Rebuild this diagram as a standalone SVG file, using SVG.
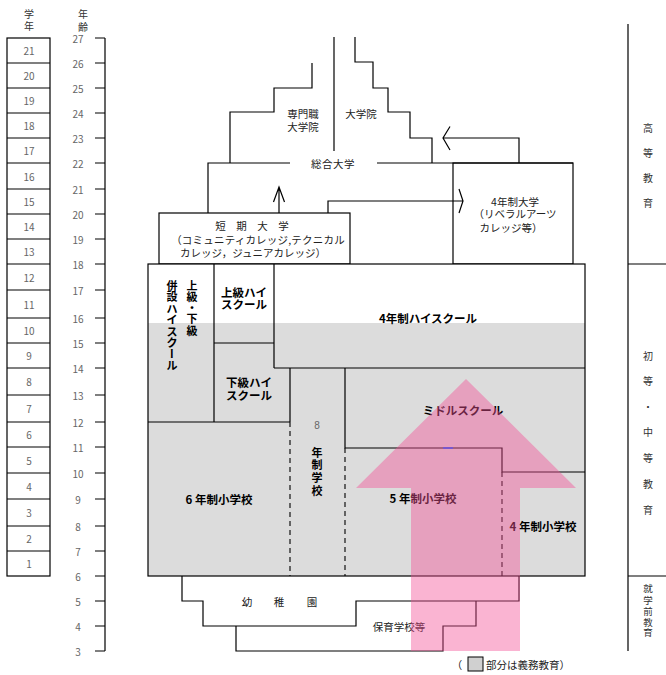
<svg xmlns="http://www.w3.org/2000/svg" width="666" height="675" viewBox="0 0 666 675">
<style>
.l{fill:none;stroke:#000;stroke-width:1.2}
.d{fill:none;stroke:#000;stroke-width:1.1;stroke-dasharray:5 4}
text{font-family:"Noto Sans CJK JP","Noto Sans",sans-serif;text-anchor:middle;dominant-baseline:central}
.t{font-size:10.5px;fill:#222}
.b{font-size:11.5px;font-weight:bold;fill:#000}
.v{font-size:11px;font-weight:bold;fill:#000}
.num{font-family:"Liberation Sans",Arial,sans-serif;font-size:10px;fill:#666}
.s{font-size:10px;fill:#333}
.pink{fill:#f35096;fill-opacity:0.43}
</style>
<rect width="666" height="675" fill="#fff"/>

<g id="grade-axis">
<text class="s" x="29" y="13">学</text>
<text class="s" x="29" y="25">年</text>
<rect x="7" y="38" width="43" height="538" class="l"/>
<path class="l" d="M7,63H50M7,88H50M7,113H50M7,138H50M7,163H50M7,189H50M7,214H50M7,239H50M7,264H50M7,290H50M7,318H50M7,343H50M7,368H50M7,395H50M7,422H50M7,447H50M7,473H50M7,499H50M7,526H50M7,551H50"/>
<g class="num">
<text x="29" y="50.5">21</text><text x="29" y="75.5">20</text><text x="29" y="100.5">19</text><text x="29" y="125.5">18</text><text x="29" y="150.5">17</text><text x="29" y="176">16</text><text x="29" y="201.5">15</text><text x="29" y="226.5">14</text><text x="29" y="251.5">13</text><text x="29" y="277">12</text><text x="29" y="304">11</text><text x="29" y="330.5">10</text><text x="29" y="355.5">9</text><text x="29" y="381.5">8</text><text x="29" y="408.5">7</text><text x="29" y="434.5">6</text><text x="29" y="460">5</text><text x="29" y="486">4</text><text x="29" y="512.5">3</text><text x="29" y="538.5">2</text><text x="29" y="563.5">1</text>
</g>
</g>

<g id="age-axis">
<text class="s" x="83" y="13">年</text>
<text class="s" x="83" y="26">齢</text>
<path class="l" d="M105,38V651M95,38H105M95,63H105M95,88H105M95,113H105M95,138H105M95,163H105M95,189H105M95,214H105M95,239H105M95,264H105M95,290H105M95,318H105M95,343H105M95,368H105M95,395H105M95,422H105M95,447H105M95,473H105M95,499H105M95,526H105M95,551H105M95,576H105M95,601H105M95,626H105M95,651H105"/>
<g class="num">
<text x="78" y="38">27</text><text x="78" y="63">26</text><text x="78" y="88">25</text><text x="78" y="113">24</text><text x="78" y="138">23</text><text x="78" y="163">22</text><text x="78" y="189">21</text><text x="78" y="214">20</text><text x="78" y="239">19</text><text x="78" y="264">18</text><text x="78" y="290">17</text><text x="78" y="318">16</text><text x="78" y="343">15</text><text x="78" y="368">14</text><text x="78" y="395">13</text><text x="78" y="422">12</text><text x="78" y="447">11</text><text x="78" y="473">10</text><text x="78" y="499">9</text><text x="78" y="526">8</text><text x="78" y="551">7</text><text x="78" y="576">6</text><text x="78" y="601">5</text><text x="78" y="626">4</text><text x="78" y="651">3</text>
</g>
</g>

<g id="professional-graduate-school">
<path class="l" d="M312,63V88H274V112H230V163"/>
<text class="t" x="303" y="113">専門職</text>
<text class="t" x="303" y="126.5">大学院</text>
</g>

<g id="graduate-school">
<path class="l" d="M334,37V151"/>
<path class="l" d="M355,37V62H373V88H388V112H410V138H432V163"/>
<text class="t" x="361" y="113">大学院</text>
</g>

<g id="university">
<path class="l" d="M208,213V163H290M377,163H573"/>
<text class="t" x="333" y="163.5" letter-spacing="0.5">総合大学</text>
</g>

<g id="junior-college">
<rect class="l" x="159" y="213" width="191" height="51" fill="#fff"/>
<text class="t" x="252" y="225" font-size="10">短　期　大　学</text>
<text class="t" x="258" y="239.5" font-size="10" letter-spacing="0.2">（コミュニティカレッジ,テクニカル</text>
<text class="t" x="253" y="252" font-size="10">カレッジ，ジュニアカレッジ）</text>
</g>

<g id="four-year-college">
<rect class="l" x="453" y="163" width="120" height="101" fill="#fff"/>
<text class="t" x="515" y="201.5" font-size="10">4年制大学</text>
<text class="t" x="515" y="213.5" font-size="10">（リベラルアーツ</text>
<text class="t" x="511" y="227" font-size="10">カレッジ等）</text>
</g>

<g id="main-schools">
<rect x="148" y="264" width="437" height="312" fill="#fff"/>
<rect x="148" y="323" width="437" height="253" fill="#dcdcdc"/>
<rect x="148" y="264" width="437" height="312" class="l"/>
<path class="l" d="M214,264V422M274,264V368M214,343H274M274,368H585M148,422H290M290,368V422M345,368V448H502V472H585"/>
<path class="d" d="M290,422V576M345,448V576M502,472V576"/>
</g>

<g id="combined-high-school">
<g class="v">
<text x="172" y="285">併</text><text x="172" y="296.4">設</text><text x="172" y="307.8">ハ</text><text x="172" y="319.2">イ</text><text x="172" y="330.6">ス</text><text x="172" y="342">ク</text><text x="172" y="353.4" transform="rotate(90 172 353.4)">ー</text><text x="172" y="364.8">ル</text>
<text x="192" y="285">上</text><text x="192" y="296.4">級</text><text x="192" y="307">・</text><text x="192" y="318">下</text><text x="192" y="330">級</text>
</g>
</g>

<g id="senior-high-school">
<text class="b" x="244" y="291.5">上級ハイ</text>
<text class="b" x="244" y="303.5">スクール</text>
</g>

<g id="junior-high-school">
<text class="b" x="249" y="382">下級ハイ</text>
<text class="b" x="249" y="395">スクール</text>
</g>

<g id="four-year-high-school">
<text class="b" x="428" y="318">4年制ハイスクール</text>
</g>

<g id="eight-year-school">
<text class="num" x="317" y="425" font-size="12" fill="#555">8</text>
<g class="v">
<text x="317" y="452">年</text><text x="317" y="464">制</text><text x="317" y="477">学</text><text x="317" y="490">校</text>
</g>
</g>

<g id="six-year-elementary">
<text class="b" x="219" y="499">6 年制小学校</text>
</g>

<g id="middle-school">
<text class="b" x="463" y="410">ミドルスクール</text>
</g>

<g id="five-year-elementary">
<text class="b" x="423" y="498">5 年制小学校</text>
</g>

<g id="four-year-elementary">
<text class="b" x="543" y="525.5">4 年制小学校</text>
</g>

<g id="kindergarten">
<path class="l" d="M182,576V601H203V626H356V601H519V576"/>
<text class="t" x="247" y="601.5">幼</text><text class="t" x="279" y="601.5">稚</text><text class="t" x="312" y="601.5">園</text>
</g>

<g id="nursery-school">
<path class="l" d="M236,626V651H443V626H476V601"/>
<text class="t" x="399" y="626.5">保育学校等</text>
</g>

<g id="compulsory-arrow">
<polygon class="pink" points="466,379 576,488 520,488 520,651 411,651 411,488 356,488"/>
<path d="M443,448H453" stroke="#5a50ff" stroke-width="1.2"/>
</g>

<g id="connectors">
<path class="l" d="M279,213V187M273.5,202L279,187L284.5,202"/>
<path class="l" d="M328,213V201H463M459,189L463,201L459,213"/>
<path class="l" d="M519,163V138H443M450,126.5L443,138L450,150"/>
</g>

<g id="legend">
<text class="t" x="457" y="664">（</text>
<rect x="468" y="657" width="15" height="14" fill="#d0d0d0" stroke="#000" stroke-width="1"/>
<text class="t" x="486" y="664" style="text-anchor:start">部分は義務教育）</text>
</g>

<g id="stage-labels">
<path class="l" d="M628,24V651M628,264H666M628,576H666"/>
<g class="s">
<text x="648" y="127">高</text><text x="648" y="152">等</text><text x="648" y="177">教</text><text x="648" y="202.5">育</text>
<text x="648" y="355">初</text><text x="648" y="380">等</text><text x="648" y="406">・</text><text x="648" y="431.5">中</text><text x="648" y="457">等</text><text x="648" y="483">教</text><text x="648" y="509">育</text>
<text x="648" y="588" font-size="9.5">就</text><text x="648" y="599.5" font-size="9.5">学</text><text x="648" y="610.5" font-size="9.5">前</text><text x="648" y="621.5" font-size="9.5">教</text><text x="648" y="632" font-size="9.5">育</text>
</g>
</g>
</svg>
